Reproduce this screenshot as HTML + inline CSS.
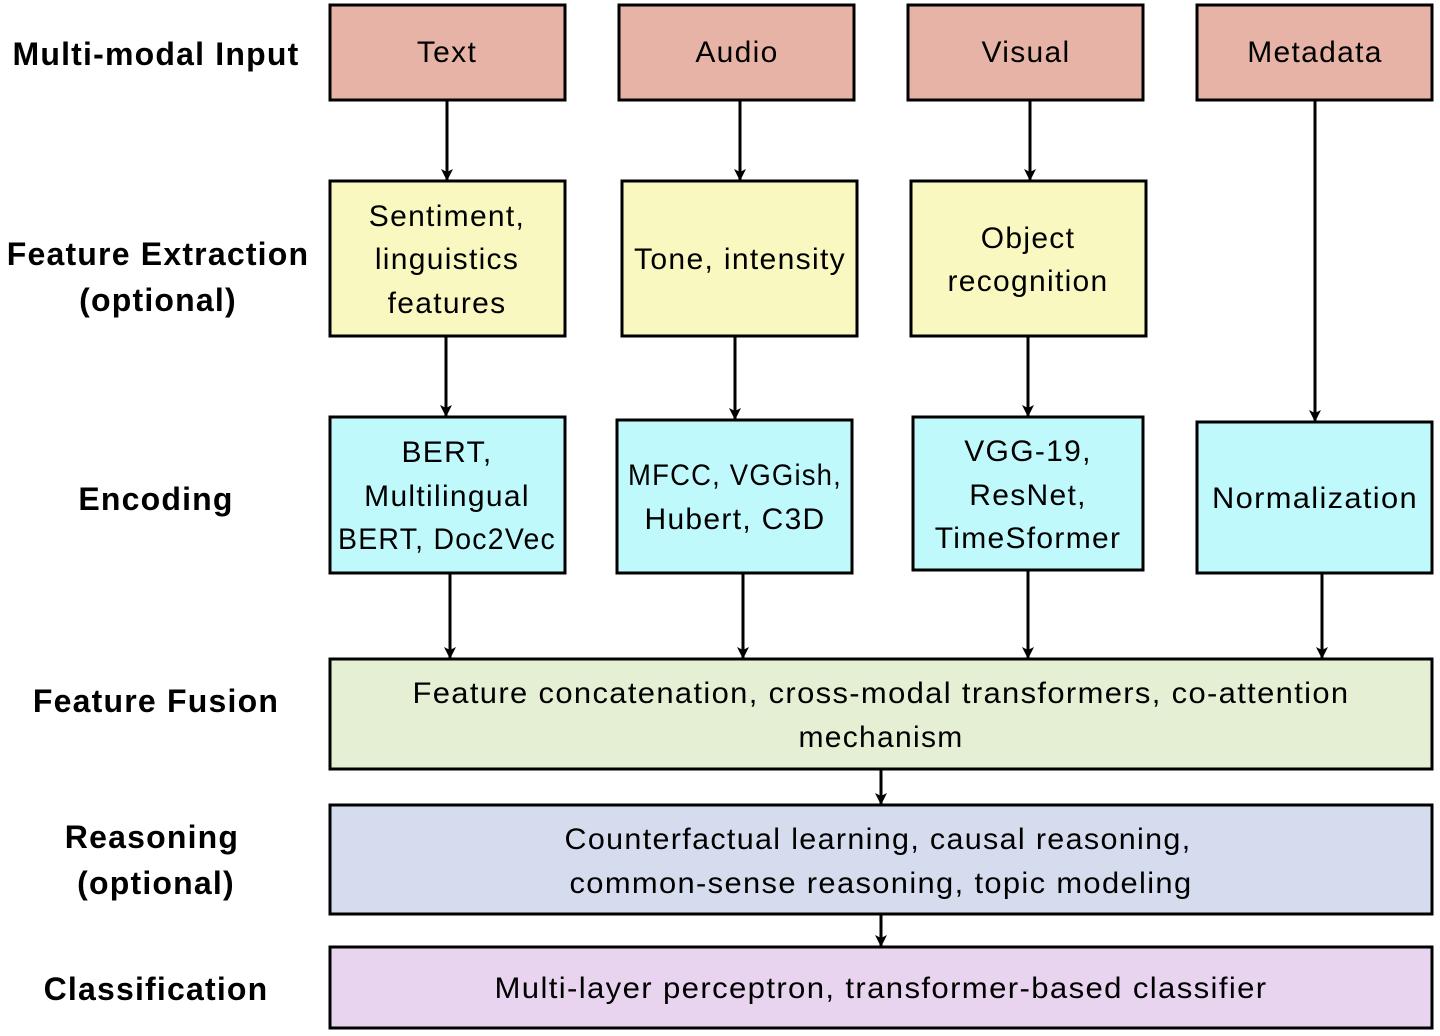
<!DOCTYPE html>
<html><head><meta charset="utf-8"><style>
html,body{margin:0;padding:0;background:#fff;}
svg{display:block;}
text{font-family:"Liberation Sans",sans-serif;fill:#000;}
.l{font-weight:bold;font-size:32px;letter-spacing:1.2px;}
.b{font-size:30px;letter-spacing:1.3px;}
</style></head><body>
<svg width="1440" height="1036" viewBox="0 0 1440 1036" xmlns="http://www.w3.org/2000/svg">
<defs><marker id="a" markerWidth="14" markerHeight="14" refX="11" refY="6" orient="auto" markerUnits="userSpaceOnUse"><path d="M0,0 L12,6 L0,12 L3,6 z" fill="#000"/></marker></defs>
<g stroke="#000" stroke-width="3">
<rect x="330" y="5" width="235" height="95" fill="#e6b3a6"/>
<rect x="619" y="5" width="235" height="95" fill="#e6b3a6"/>
<rect x="908" y="5" width="235" height="95" fill="#e6b3a6"/>
<rect x="1197" y="5" width="235" height="95" fill="#e6b3a6"/>
<rect x="330" y="181" width="235" height="155" fill="#f9f8c0"/>
<rect x="622" y="181" width="235" height="155" fill="#f9f8c0"/>
<rect x="911" y="181" width="235" height="155" fill="#f9f8c0"/>
<rect x="330" y="417" width="235" height="156" fill="#bff9fb"/>
<rect x="617" y="420" width="235" height="153" fill="#bff9fb"/>
<rect x="913" y="417" width="230" height="153" fill="#bff9fb"/>
<rect x="1197" y="422" width="235" height="151" fill="#bff9fb"/>
<rect x="330" y="659" width="1102" height="110" fill="#e4efd4"/>
<rect x="330" y="805" width="1102" height="109" fill="#d5dcee"/>
<rect x="330" y="947" width="1102" height="81" fill="#e8d4ef"/>
</g>
<g stroke="#000" stroke-width="3" marker-end="url(#a)">
<line x1="447" y1="101" x2="447" y2="180"/>
<line x1="740" y1="101" x2="740" y2="180"/>
<line x1="1030" y1="101" x2="1030" y2="180"/>
<line x1="1315" y1="101" x2="1315" y2="421"/>
<line x1="446" y1="337" x2="446" y2="416"/>
<line x1="735" y1="337" x2="735" y2="419"/>
<line x1="1028" y1="337" x2="1028" y2="416"/>
<line x1="450" y1="574" x2="450" y2="658"/>
<line x1="743" y1="574" x2="743" y2="658"/>
<line x1="1028" y1="571" x2="1028" y2="658"/>
<line x1="1322" y1="574" x2="1322" y2="658"/>
<line x1="881" y1="770" x2="881" y2="804"/>
<line x1="881" y1="915" x2="881" y2="946"/>
</g>
<g class="l" text-anchor="middle">
<text x="156" y="65">Multi-modal Input</text>
<text x="158" y="265">Feature Extraction</text>
<text x="158" y="311">(optional)</text>
<text x="156" y="510">Encoding</text>
<text x="156" y="712">Feature Fusion</text>
<text x="152" y="848">Reasoning</text>
<text x="156" y="894">(optional)</text>
<text x="156" y="1000">Classification</text>
</g>
<g class="b" text-anchor="middle">
<text x="447" y="62">Text</text>
<text x="737" y="62">Audio</text>
<text x="1026" y="62">Visual</text>
<text x="1315" y="62">Metadata</text>
<text x="447" y="226">Sentiment,</text>
<text x="447" y="269">linguistics</text>
<text x="447" y="313">features</text>
<text x="740" y="269" textLength="212" lengthAdjust="spacingAndGlyphs">Tone, intensity</text>
<text x="1028" y="248">Object</text>
<text x="1028" y="291">recognition</text>
<text x="447" y="462">BERT,</text>
<text x="447" y="506">Multilingual</text>
<text x="447" y="549" textLength="218" lengthAdjust="spacingAndGlyphs">BERT, Doc2Vec</text>
<text x="735" y="485" textLength="214" lengthAdjust="spacingAndGlyphs">MFCC, VGGish,</text>
<text x="735" y="529">Hubert, C3D</text>
<text x="1028" y="461">VGG-19,</text>
<text x="1028" y="505">ResNet,</text>
<text x="1028" y="548">TimeSformer</text>
<text x="1315" y="508" textLength="206" lengthAdjust="spacingAndGlyphs">Normalization</text>
<text x="881" y="703" textLength="937" lengthAdjust="spacingAndGlyphs">Feature concatenation, cross-modal transformers, co-attention</text>
<text x="881" y="747">mechanism</text>
<text x="878" y="849" textLength="627" lengthAdjust="spacingAndGlyphs">Counterfactual learning, causal reasoning,</text>
<text x="881" y="893" textLength="623" lengthAdjust="spacingAndGlyphs">common-sense reasoning, topic modeling</text>
<text x="881" y="998" textLength="773" lengthAdjust="spacingAndGlyphs">Multi-layer perceptron, transformer-based classifier</text>
</g>
</svg>
</body></html>
